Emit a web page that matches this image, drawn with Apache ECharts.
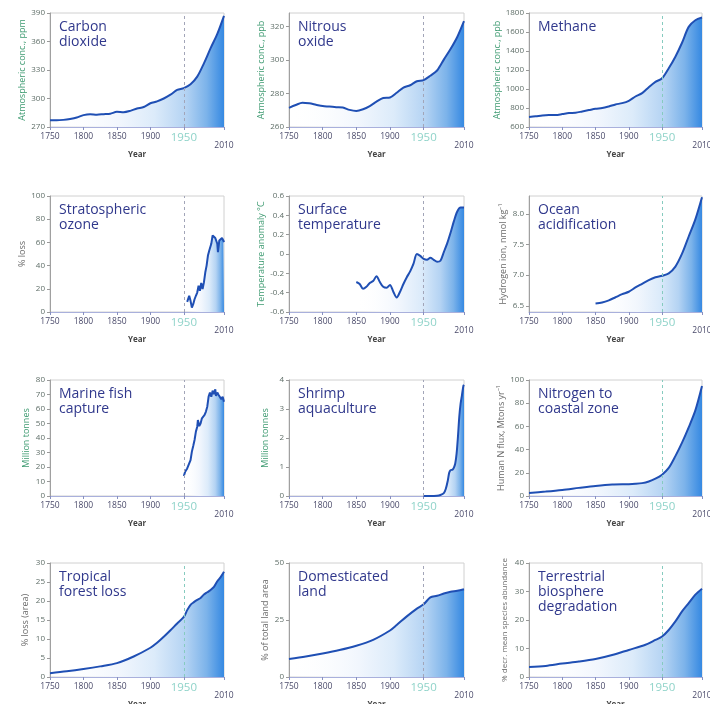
<!DOCTYPE html>
<html>
<head>
<meta charset="utf-8">
<script src="https://cdn.jsdelivr.net/npm/echarts@6/dist/echarts.min.js"></script>
<style>
  html, body { margin: 0; background: #fff; }
  #chart { width: 710px; height: 704px; }
</style>
</head>
<body>
<div id="chart"></div>
<script>
// x axis ticks shared by all panels
var tickYears = [1750, 1800, 1850, 1900, 1950, 2000, 2010];
var decades = [1750,1760,1770,1780,1790,1800,1810,1820,1830,1840,1850,1860,1870,1880,1890,1900,1910,1920,1930,1940,1950,1960,1970,1980,1990,2000,2010];

// Carbon dioxide (ppm)
var co2Years = decades;
var co2Values = [277,277,277.5,278.5,280,282.5,283.5,283,283.5,284,286,285.5,287,289.5,291,295,297,300,304,309,311,315,323,337,353,368,387];
var co2Ticks = [270, 300, 330, 360, 390];

// Nitrous oxide (ppb)
var n2oYears = decades;
var n2oValues = [271.4,273.1,274.5,274.1,273.3,272.5,272.2,271.8,271.6,270.2,269.6,270.6,272.5,275.1,277.3,277.6,280.4,283.5,284.9,287.3,288,290.6,293.7,300.2,306.5,313.7,323.1];
var n2oTicks = [260, 280, 300, 320];

// Methane (ppb)
var ch4Years = decades;
var ch4Values = [705,712,722,726,726,736,747,750,764,778,792,799,816,837,851,876,921,956,1019,1075,1113,1218,1340,1487,1654,1724,1752];
var ch4Ticks = [600, 800, 1000, 1200, 1400, 1600, 1800];

// Stratospheric ozone (% loss)
var ozoneYears = [1955,1957,1958,1960,1962,1964,1966,1968,1970,1972,1974,1976,1978,1980,1982,1984,1986,1988,1990,1991,1993,1995,1997,1999,2000,2001,2002,2003,2005,2007,2009,2010];
var ozoneValues = [8.7,9.6,14,9.6,3.8,6.7,11,14,16.8,22.6,18.3,25,19.7,25.5,34,40,48.7,53,51.6,58.8,66,64.6,63.8,63,58.8,51.6,53,61.7,63,63.8,61.7,60.3];
var ozoneTicks = [0, 20, 40, 60, 80, 100];

// Surface temperature (anomaly °C)
var tempYears = [1850,1855,1860,1865,1870,1875,1880,1885,1890,1895,1900,1905,1910,1915,1920,1925,1930,1935,1940,1945,1950,1955,1960,1965,1970,1975,1980,1985,1990,1995,2000,2005,2010];
var tempValues = [-0.29,-0.31,-0.36,-0.34,-0.30,-0.28,-0.23,-0.29,-0.34,-0.35,-0.32,-0.39,-0.45,-0.39,-0.31,-0.24,-0.18,-0.10,0.0,-0.02,-0.05,-0.06,-0.04,-0.06,-0.08,-0.07,0.02,0.11,0.22,0.34,0.44,0.48,0.48];
var tempTicks = [-0.6, -0.4, -0.2, 0, 0.2, 0.4, 0.6];

// Ocean acidification (hydrogen ion, nmol/kg)
var oceanYears = [1850,1860,1870,1880,1890,1900,1910,1920,1930,1940,1950,1960,1970,1980,1990,2000,2010];
var oceanValues = [6.54,6.555,6.59,6.64,6.69,6.73,6.80,6.86,6.92,6.965,6.99,7.03,7.14,7.35,7.63,7.91,8.27];
var oceanTicks = [6.5, 7.0, 7.5, 8.0];

// Marine fish capture (million tonnes)
var fishYears = [1950,1952,1955,1958,1960,1962,1964,1966,1968,1970,1971,1973,1975,1977,1979,1981,1983,1985,1987,1989,1991,1993,1995,1997,1998,2000,2002,2004,2006,2008,2010];
var fishValues = [13.8,16.8,19,22.5,24.8,30.6,34.5,38.6,44.4,47.8,52.4,48.3,50,53.6,54.3,55.9,58.2,61.6,68.5,71.3,68.5,72.6,70.3,73.6,69,71.3,69.7,70.8,66.7,68.5,65];
var fishTicks = [0, 10, 20, 30, 40, 50, 60, 70, 80];

// Shrimp aquaculture (million tonnes)
var shrimpYears = [1950,1960,1970,1975,1980,1983,1986,1988,1990,1993,1995,1997,1999,2001,2003,2005,2007,2009,2010];
var shrimpValues = [0,0,0.01,0.035,0.1,0.25,0.54,0.8,0.89,0.91,0.98,1.12,1.46,2.04,2.73,3.19,3.48,3.79,3.83];
var shrimpTicks = [0, 1, 2, 3, 4];

// Nitrogen to coastal zone (Mtons/yr)
var nitroYears = [1750,1775,1800,1825,1850,1875,1900,1910,1920,1930,1940,1950,1960,1970,1980,1990,2000,2010];
var nitroValues = [2.6,3.8,5.2,7,8.7,9.9,10.2,10.5,11.1,12.5,14.9,18.4,24.2,34.4,46,59.2,73.8,94.8];
var nitroTicks = [0, 20, 40, 60, 80, 100];

// Tropical forest loss (% area)
var forestYears = [1750,1775,1800,1825,1850,1875,1900,1910,1920,1930,1940,1950,1955,1960,1965,1970,1975,1980,1985,1990,1995,2000,2005,2010];
var forestValues = [1.0,1.5,2.1,2.8,3.65,5.4,7.7,9.0,10.6,12.3,14.1,15.8,17.6,19,19.7,20.3,20.8,21.7,22.3,22.9,23.7,25.2,26.3,27.7];
var forestTicks = [0, 5, 10, 15, 20, 25, 30];

// Domesticated land (% of total land area)
var landYears = [1750,1775,1800,1825,1850,1875,1900,1910,1925,1940,1950,1960,1970,1980,1990,2000,2010];
var landValues = [7.9,9,10.3,11.8,13.7,16.3,20.4,22.8,26.6,30,31.9,34.9,35.6,36.6,37.4,37.8,38.5];
var landTicks = [0, 25, 50];

// Terrestrial biosphere degradation (% decr. mean species abundance)
var terrYears = [1750,1775,1800,1825,1850,1875,1900,1925,1940,1950,1960,1970,1980,1990,2000,2010];
var terrValues = [3.5,3.9,4.7,5.4,6.3,7.7,9.5,11.3,13,14.2,16.5,19.5,23,25.9,28.9,31];
var terrTicks = [0, 10, 20, 30, 40];

var GREEN = '#3f9b72', GREY = '#6a6a6a', TEAL = '#86cbbf', DGREY = '#a2a5b8';

var panels = [
  { title: 'Carbon\ndioxide', name: 'Atmospheric conc., ppm', years: co2Years, values: co2Values, ticks: co2Ticks, min: 270, max: 390, smooth: true, nameColor: GREEN, gap: 20, dash: DGREY },
  { title: 'Nitrous\noxide', name: 'Atmospheric conc., ppb', years: n2oYears, values: n2oValues, ticks: n2oTicks, min: 260, max: 328, smooth: true, nameColor: GREEN, gap: 19, dash: DGREY },
  { title: 'Methane', name: 'Atmospheric conc., ppb', years: ch4Years, values: ch4Values, ticks: ch4Ticks, min: 600, max: 1800, smooth: true, nameColor: GREEN, gap: 26, dash: TEAL },
  { title: 'Stratospheric\nozone', name: '% loss', years: ozoneYears, values: ozoneValues, ticks: ozoneTicks, min: 0, max: 100, smooth: false, nameColor: GREY, gap: 18, dash: DGREY },
  { title: 'Surface\ntemperature', name: 'Temperature anomaly °C', years: tempYears, values: tempValues, ticks: tempTicks, min: -0.6, max: 0.6, smooth: true, nameColor: GREEN, gap: 19, dash: DGREY },
  { title: 'Ocean\nacidification', name: 'Hydrogen ion, nmol kg⁻¹', years: oceanYears, values: oceanValues, ticks: oceanTicks, min: 6.4, max: 8.29, smooth: true, nameColor: GREY, gap: 21, dash: TEAL, fixed: 1 },
  { title: 'Marine fish\ncapture', name: 'Million tonnes', years: fishYears, values: fishValues, ticks: fishTicks, min: 0, max: 80, smooth: false, nameColor: GREEN, gap: 19, dash: DGREY },
  { title: 'Shrimp\naquaculture', name: 'Million tonnes', years: shrimpYears, values: shrimpValues, ticks: shrimpTicks, min: 0, max: 4, smooth: true, nameColor: GREEN, gap: 19, dash: DGREY },
  { title: 'Nitrogen to\ncoastal zone', name: 'Human N flux, Mtons yr⁻¹', years: nitroYears, values: nitroValues, ticks: nitroTicks, min: 0, max: 100, smooth: true, nameColor: GREY, gap: 20, dash: TEAL },
  { title: 'Tropical\nforest loss', name: '% loss (area)', years: forestYears, values: forestValues, ticks: forestTicks, min: 0, max: 30, smooth: true, nameColor: GREY, gap: 20, dash: TEAL },
  { title: 'Domesticated\nland', name: '% of total land area', years: landYears, values: landValues, ticks: landTicks, min: 0, max: 50, smooth: true, nameColor: GREY, gap: 19, dash: DGREY },
  { title: 'Terrestrial\nbiosphere\ndegradation', name: '% decr. mean species abundance', years: terrYears, values: terrValues, ticks: terrTicks, min: 0, max: 40, smooth: true, nameColor: GREY, gap: 20, dash: TEAL, nameSize: 8 }
];

var colLeft = [50, 289, 529], colWidth = [174, 175, 173];
var rowTop = [13, 196, 380, 563], rowHeight = [114, 116, 116, 114];

var fill = {
  type: 'linear', x: 0, y: 0, x2: 1, y2: 0,
  colorStops: [
    { offset: 0, color: 'rgba(255,255,255,0)' },
    { offset: 0.4, color: '#f1f6fd' },
    { offset: 0.6, color: '#dcebfa' },
    { offset: 0.78, color: '#b4d3f3' },
    { offset: 0.9, color: '#7cb3ea' },
    { offset: 1, color: '#3689e2' }
  ]
};

var grids = [], xAxes = [], yAxes = [], series = [], titles = [];

panels.forEach(function (p, i) {
  var r = Math.floor(i / 3), c = i % 3;
  grids.push({
    left: colLeft[c], top: rowTop[r], width: colWidth[c], height: rowHeight[r],
    show: true, borderColor: '#d0d0d0', borderWidth: 1, outerBoundsMode: 'none'
  });
  titles.push({
    text: p.title, left: colLeft[c] + 9, top: rowTop[r] + 7, padding: 0,
    textStyle: { fontSize: 14, lineHeight: 15, fontWeight: 'normal', color: '#30388c', fontFamily: 'Open Sans' }
  });
  xAxes.push({
    gridIndex: i, type: 'value', min: 1750, max: 2010,
    name: 'Year', nameLocation: 'middle', nameGap: 22,
    nameTextStyle: { fontSize: 8, fontWeight: 'bold', color: '#444' },
    axisLine: { show: true, onZero: false, lineStyle: { color: '#a9b0dc' } },
    axisTick: { show: true, customValues: tickYears, length: 3, lineStyle: { color: '#8890c0' } },
    splitLine: { show: false },
    axisLabel: {
      customValues: tickYears, showMinLabel: true, showMaxLabel: true,
      fontSize: 8.5, color: '#4b4b6b', margin: 5,
      formatter: function (v) {
        if (v === 1950) return '{h|1950}';
        if (v === 2010) return '\n2010';
        return String(v);
      },
      rich: { h: { fontSize: 11.5, color: '#8fd3c9' } }
    }
  });
  yAxes.push({
    gridIndex: i, type: 'value', min: p.min, max: p.max,
    name: p.name, nameLocation: 'middle', nameGap: p.gap,
    nameTextStyle: { fontSize: p.nameSize || 9, color: p.nameColor },
    axisLine: { show: true, onZero: false, lineStyle: { color: '#a0a0a0' } },
    axisTick: { show: true, customValues: p.ticks, length: 3, lineStyle: { color: '#999' } },
    splitLine: { show: false },
    axisLabel: {
      customValues: p.ticks, showMinLabel: true, showMaxLabel: true,
      fontSize: 8, color: '#5f6e68', margin: 5,
      formatter: function (v) {
        if (p.fixed) return v.toFixed(p.fixed);
        return String(Math.round(v * 10) / 10);
      }
    }
  });
  series.push({
    type: 'line', xAxisIndex: i, yAxisIndex: i,
    data: p.years.map(function (y, k) { return [y, p.values[k]]; }),
    showSymbol: false, smooth: p.smooth ? 0.3 : false,
    lineStyle: { color: '#1f4fb4', width: 2 },
    areaStyle: { origin: p.min, color: fill, opacity: 1 },
    markLine: {
      silent: true, symbol: 'none', label: { show: false },
      lineStyle: { type: [3, 3], color: p.dash, width: 1 },
      data: [{ xAxis: 1950 }]
    }
  });
});

var chart = echarts.init(document.getElementById('chart'));
chart.setOption({
  animation: false,
  backgroundColor: '#fff',
  textStyle: { fontFamily: 'Open Sans, sans-serif' },
  title: titles,
  grid: grids,
  xAxis: xAxes,
  yAxis: yAxes,
  series: series
});
</script>
</body>
</html>
